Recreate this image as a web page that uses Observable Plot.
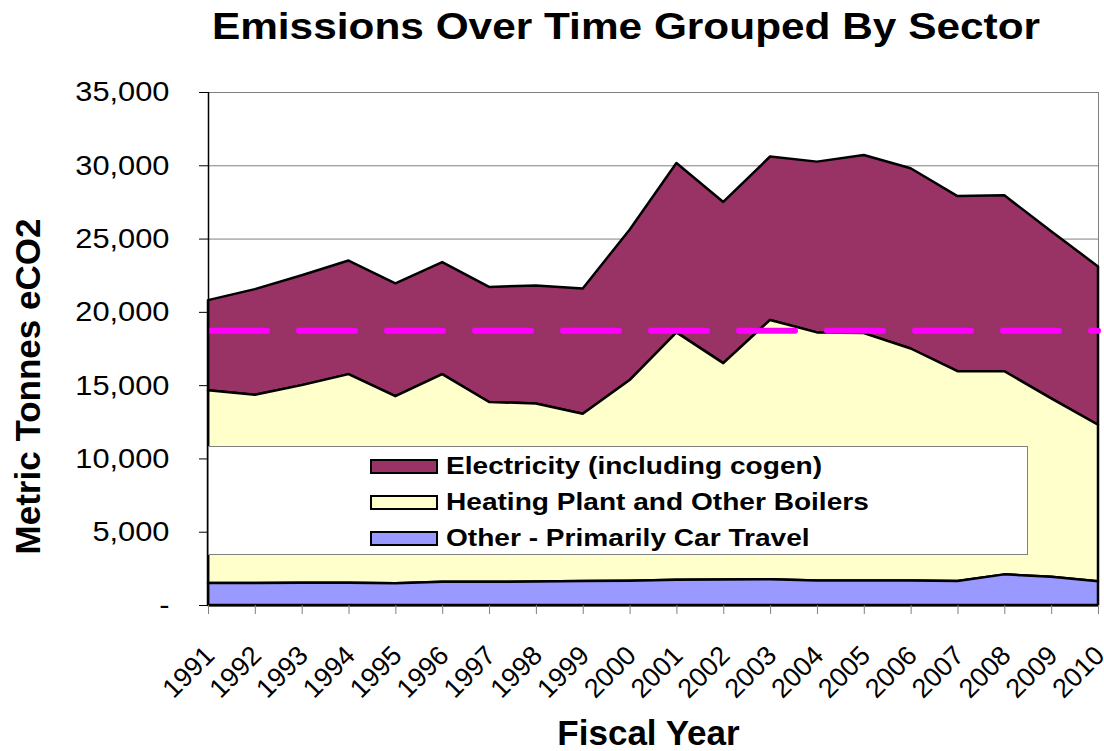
<!DOCTYPE html>
<html><head><meta charset="utf-8">
<script src="https://cdn.jsdelivr.net/npm/d3@7"></script>
<script src="https://cdn.jsdelivr.net/npm/@observablehq/plot@0.6"></script>
<style>
body{margin:0;background:#fff;font-family:"Liberation Sans",Arial,sans-serif;}
#wrap{position:relative;width:1104px;height:751px;overflow:hidden;background:#fff;}
#chart{position:absolute;left:0;top:0;}
.txt{position:absolute;white-space:nowrap;font-weight:bold;line-height:1;color:#000;}
#legend{position:absolute;left:208px;top:446px;width:820px;height:109px;box-sizing:border-box;background:#fff;border:1px solid #808080;padding-top:1px;}
.row{display:flex;align-items:center;height:36px;padding-left:161px;}
.sw{width:68px;height:15px;box-sizing:border-box;border:2px solid #000;flex:none;}
.lab{margin-left:8px;font-weight:bold;font-size:24px;line-height:1;white-space:nowrap;transform:scaleX(1.17);transform-origin:left center;}
</style></head><body>
<div id="wrap"><div id="chart"></div></div>
<script>
const years = [1991,1992,1993,1994,1995,1996,1997,1998,1999,2000,2001,2002,2003,2004,2005,2006,2007,2008,2009,2010];
const electricity = [6150,7200,7500,7750,7700,7650,7850,8050,8550,10250,11550,11000,11150,11650,12150,12300,11950,12000,11400,10800];
const heating = [13150,12850,13480,14240,12760,14170,12270,12150,11410,13690,16880,14760,17690,16920,16870,15820,14310,13860,12170,10680];
const other = [1500,1500,1520,1510,1490,1580,1580,1600,1640,1660,1720,1740,1760,1680,1680,1680,1640,2090,1930,1620];
const sectors = ["Electricity (including cogen)", "Heating Plant and Other Boilers", "Other - Primarily Car Travel"];
const sectorColors = ["#993366", "#FFFFCC", "#9999FF"];
const target = 18750;
const yTicks = [0,5000,10000,15000,20000,25000,30000,35000];
const titleText = "Emissions Over Time Grouped By Sector";
const xTitle = "Fiscal Year";
const yTitle = "Metric Tonnes eCO2";

const rows = [];
years.forEach((yr, i) => {
  rows.push({year: yr, sector: sectors[0], value: electricity[i]});
  rows.push({year: yr, sector: sectors[1], value: heating[i]});
  rows.push({year: yr, sector: sectors[2], value: other[i]});
});

const chart = Plot.plot({
  width: 1104, height: 751,
  marginLeft: 208, marginRight: 6, marginTop: 92, marginBottom: 146,
  style: {fontFamily: '"Liberation Sans", Arial, sans-serif', background: "white", color: "black", overflow: "visible"},
  x: {domain: [years[0], years[years.length - 1]]},
  y: {domain: [yTicks[0], yTicks[yTicks.length - 1]]},
  color: {domain: sectors, range: sectorColors},
  marks: [
    Plot.gridY({ticks: yTicks.slice(1), stroke: "#808080", strokeOpacity: 1, strokeWidth: 1}),
    Plot.frame({stroke: "#808080"}),
    Plot.areaY(rows, {x: "year", y: "value", z: "sector", fill: "sector", stroke: "black", strokeWidth: 2.5,
      order: [sectors[2], sectors[1], sectors[0]]}),
    Plot.ruleY([target], {stroke: "#FF00FF", strokeWidth: 6, strokeDasharray: "56,32", strokeDashoffset: -3, strokeLinecap: "round"}),
    Plot.ruleX([years[0]], {stroke: "black", strokeWidth: 1.5}),
    Plot.ruleY([0], {stroke: "black", strokeWidth: 2}),
    Plot.axisY({ticks: yTicks, tickSize: 9, tickPadding: 30, fontSize: 28, stroke: "black",
      tickFormat: d => d === 0 ? "-" : d3.format(",")(d), label: null}),
    Plot.axisX({ticks: years, tickSize: 9, tickFormat: () => "", label: null, stroke: "#808080"}),
    Plot.text(years, {x: d => d, text: d => String(d), frameAnchor: "bottom", dx: -6, dy: 38, rotate: -45,
      textAnchor: "end", lineAnchor: "top", fontSize: 27, fill: "black"})
  ]
});
chart.querySelectorAll('[aria-label="y-axis tick label"] text').forEach(t => {
  const tr = t.getAttribute("transform");
  if (tr) t.setAttribute("transform", tr + " scale(1.1,1)");
});
const wrap = document.getElementById("wrap");
document.getElementById("chart").appendChild(chart);

function addText(txt, css) {
  const d = document.createElement("div");
  d.className = "txt";
  d.textContent = txt;
  Object.assign(d.style, css);
  wrap.appendChild(d);
  return d;
}
// title: centre x 626, baseline 40
addText(titleText, {left: "0px", width: "1252px", textAlign: "center", top: "8px", fontSize: "37.5px", transform: "scaleX(1.13)", transformOrigin: "626px 0"});
// x title: centre 648, baseline 745
addText(xTitle, {left: "0px", width: "1297px", textAlign: "center", top: "715.4px", fontSize: "35px"});
// y title: centre (27, 386)
addText(yTitle, {left: (27 - 250) + "px", width: "500px", textAlign: "center", top: (386 - 17.5) + "px", fontSize: "35px", transform: "rotate(-90deg)", transformOrigin: "250px 17.5px"});

const legend = document.createElement("div");
legend.id = "legend";
sectors.forEach((s, i) => {
  const r = document.createElement("div"); r.className = "row";
  const sw = document.createElement("div"); sw.className = "sw"; sw.style.background = sectorColors[i];
  const lb = document.createElement("div"); lb.className = "lab"; lb.textContent = s;
  r.appendChild(sw); r.appendChild(lb); legend.appendChild(r);
});
wrap.appendChild(legend);
</script>
</body></html>
